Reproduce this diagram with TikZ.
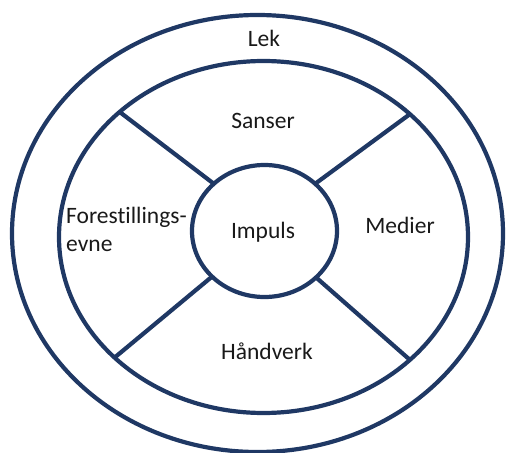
\documentclass[tikz,border=0pt]{standalone}
\usepackage{fontspec}
\setmainfont{Carlito}[Ligatures=NoCommon]
\usetikzlibrary{shapes.geometric, positioning}
\definecolor{ringblue}{RGB}{31, 56, 100}

\begin{document}
\begin{tikzpicture}[
    x=1pt, y=-1pt,
    ring/.style={ellipse, draw=ringblue, line width=4.2pt, inner sep=0pt, outer sep=0pt},
    spoke/.style={draw=ringblue, line width=4.2pt},
    lbl/.style={font=\fontsize{23.5}{28}\selectfont, text=black!90, inner sep=0pt}
]
\useasboundingbox (0,0) rectangle (507,453);

% Ringene
\node [ring, minimum width=491pt, minimum height=437pt] (lek) at (257.5, 233.5) {};
\node [ring, minimum width=409pt, minimum height=352pt] (sirkel) at (263.5, 237) {};
\node [ring, minimum width=145pt, minimum height=132pt] (impuls) at (264.5, 231) {};

% Eikene
\draw [spoke] (impuls.137.6) -- (sirkel.139.6);
\draw [spoke] (impuls.43) -- (sirkel.40.4);
\draw [spoke] (impuls.221.2) -- (sirkel.219.9);
\draw [spoke] (impuls.318.8) -- (sirkel.320.7);

% Tekstene
\node [lbl] (tlek) at (264, 38) {Lek};
\node [lbl] (tsanser) at (263, 121) {Sanser};
\node [lbl] (timpuls) at (263, 232) {Impuls};
\node [lbl] (tmedier) at (400, 225) {Medier};
\node [lbl] (thandverk) at (267, 351) {Håndverk};
\node [lbl, anchor=west, align=left] (tforest) at (66, 229) {Forestillings-\\evne};

\end{tikzpicture}
\end{document}
